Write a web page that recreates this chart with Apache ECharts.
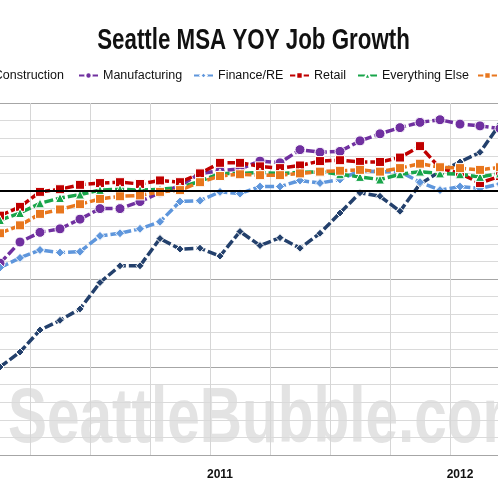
<!DOCTYPE html>
<html>
<head>
<meta charset="utf-8">
<script src="https://cdn.jsdelivr.net/npm/echarts@6/dist/echarts.min.js"></script>
<style>
  html, body { margin: 0; padding: 0; background: #fff; }
  #main { width: 498px; height: 498px; }
</style>
</head>
<body>
<div id="main"></div>
<script>
// months shown in the crop, Feb 2010 .. Mar 2012
var months = [
    '2010-02', '2010-03', '2010-04', '2010-05', '2010-06', '2010-07', '2010-08',
    '2010-09', '2010-10', '2010-11', '2010-12', '2011-01', '2011-02', '2011-03',
    '2011-04', '2011-05', '2011-06', '2011-07', '2011-08', '2011-09', '2011-10',
    '2011-11', '2011-12', '2012-01', '2012-02', '2012-03'];

// YOY job growth, percent
var construction = [-10.0, -9.15, -7.9, -7.35, -6.7, -5.2, -4.25, -4.25, -2.7, -3.3, -3.25, -3.7, -2.3,
    -3.1, -2.65, -3.25, -2.4, -1.25, -0.1, -0.3, -1.15, 0.4, 1.1, 1.65, 2.2, 3.8];
var manufacturing = [-4.1, -2.9, -2.35, -2.15, -1.6, -1.0, -1.0, -0.6, -0.1, 0.3, 1.0, 1.15, 1.25,
    1.7, 1.6, 2.35, 2.2, 2.25, 2.85, 3.25, 3.6, 3.9, 4.05, 3.8, 3.7, 3.55];
var finance = [-4.35, -3.8, -3.35, -3.5, -3.45, -2.55, -2.4, -2.15, -1.75, -0.6, -0.55, -0.05, -0.15,
    0.25, 0.25, 0.6, 0.45, 0.65, 1.15, 1.1, 1.1, 0.5, 0.05, 0.25, 0.15, 0.4];
var retail = [-1.4, -0.9, -0.05, 0.1, 0.35, 0.45, 0.5, 0.4, 0.6, 0.5, 1.0, 1.6, 1.6,
    1.4, 1.3, 1.45, 1.7, 1.75, 1.65, 1.65, 1.9, 2.55, 1.3, 1.0, 0.45, 0.85];
var everythingElse = [-1.65, -1.25, -0.7, -0.4, -0.2, 0.05, 0.1, 0.05, 0.1, 0.2, 0.55, 1.0, 1.0,
    1.05, 1.0, 1.05, 1.1, 0.95, 0.8, 0.65, 0.95, 1.1, 1.0, 0.95, 0.8, 1.0];
var total = [-2.4, -1.95, -1.3, -1.05, -0.75, -0.45, -0.3, -0.25, -0.05, 0.05, 0.5, 0.85, 0.95,
    0.9, 0.9, 1.0, 1.1, 1.15, 1.2, 1.1, 1.3, 1.55, 1.35, 1.3, 1.2, 1.35];

var yMin = -15, yMax = 5;

var FONT = '"Liberation Sans", Arial, sans-serif';

var seriesDefs = [
    { name: 'Construction', data: construction, color: '#23406c', symbol: 'diamond', size: 8 },
    { name: 'Manufacturing', data: manufacturing, color: '#7030a0', symbol: 'circle', size: 10 },
    { name: 'Finance/RE', data: finance, color: '#5e96dc', symbol: 'diamond', size: 9 },
    { name: 'Retail', data: retail, color: '#c00000', symbol: 'rect', size: 9 },
    { name: 'Everything Else', data: everythingElse, color: '#18a54a', symbol: 'triangle', size: 9 },
    { name: 'Total', data: total, color: '#e8771e', symbol: 'rect', size: 9 }
];

// one legend per item so the cut-off row lines up with the picture
var legendPos = [
    { right: 434 }, { left: 78 }, { left: 193 }, { left: 289 }, { left: 357 }, { left: 477 }
];

var myChart = echarts.init(document.getElementById('main'));

var option = {
    backgroundColor: '#fff',
    animation: false,
    legend: seriesDefs.map(function (s, i) {
        var l = {
            data: [s.name],
            top: 69,
            padding: 0,
            itemWidth: 19,
            itemHeight: 8,
            textStyle: { fontFamily: FONT, fontSize: 12.5, color: '#111' }
        };
        for (var k in legendPos[i]) l[k] = legendPos[i][k];
        return l;
    }),
    graphic: [{
        // chart title, squeezed to the condensed look of the original
        type: 'text',
        x: 253.5,
        y: 41,
        scaleX: 0.77,
        style: {
            text: 'Seattle MSA YOY Job Growth',
            fontFamily: FONT,
            fontSize: 29,
            fontWeight: 'bold',
            fill: '#111',
            align: 'center',
            verticalAlign: 'middle'
        }
    }, {
        // watermark
        type: 'text',
        z: -10,
        x: 8,
        y: 420,
        scaleX: 0.75,
        style: {
            text: 'SeattleBubble.com',
            fontFamily: FONT,
            fontSize: 78,
            fontWeight: 'bold',
            fill: '#e3e3e3',
            align: 'left',
            verticalAlign: 'middle'
        }
    }],
    grid: { left: -10, right: -12, top: 103, bottom: 43, outerBoundsMode: 'none', containLabel: false },
    xAxis: {
        type: 'category',
        data: months,
        boundaryGap: true,
        axisLine: { show: false },
        axisTick: { show: false },
        axisLabel: {
            interval: 0,
            margin: 14,
            fontFamily: FONT,
            fontSize: 12,
            fontWeight: 'bold',
            color: '#111',
            formatter: function (v) {
                return v.slice(5) === '01' ? v.slice(0, 4) : '';
            }
        },
        splitLine: {
            show: true,
            interval: function (index) { return index % 3 === 2; },
            lineStyle: { color: '#d6d6d6', width: 1 }
        }
    },
    yAxis: {
        type: 'value',
        min: yMin,
        max: yMax,
        interval: 1,
        axisLine: { show: false },
        axisTick: { show: false },
        axisLabel: { show: false },
        splitLine: {
            lineStyle: { color: ['#a6a6a6', '#dadada', '#dadada', '#dadada', '#dadada'], width: 1 }
        }
    },
    series: seriesDefs.map(function (s, i) {
        var ser = {
            name: s.name,
            type: 'line',
            data: s.data,
            symbol: s.symbol,
            symbolSize: s.size,
            color: s.color,
            lineStyle: { width: 3.5, type: [9, 3], color: s.color },
            itemStyle: { color: s.color, borderColor: '#fff', borderWidth: 1 }
        };
        if (i === 0) {
            ser.markLine = {
                silent: true,
                symbol: 'none',
                label: { show: false },
                lineStyle: { color: '#000', width: 2, type: 'solid' },
                data: [{ yAxis: 0 }]
            };
        }
        return ser;
    })
};

myChart.setOption(option);
</script>
</body>
</html>
